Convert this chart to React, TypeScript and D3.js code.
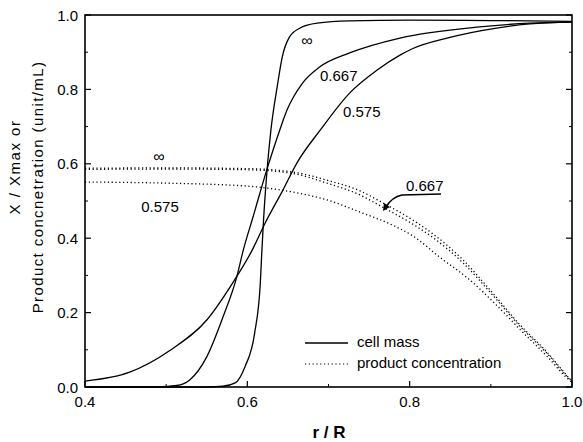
import React from "react";
import * as d3 from "d3";

// ---- data ----
const xTicksMajor = [0.4, 0.6, 0.8, 1.0];
const xTicksMinor = [0.5, 0.7, 0.9];
const yTicksMajor = [0.0, 0.2, 0.4, 0.6, 0.8, 1.0];
const yTicksMinor = [0.1, 0.3, 0.5, 0.7, 0.9];

// cell mass, X/Xmax
const rCellInf = [0.40, 0.55, 0.570, 0.585, 0.597, 0.609, 0.616, 0.618, 0.620, 0.624, 0.629, 0.637, 0.643, 0.652, 0.665, 0.686, 0.726, 0.80, 0.90, 1.0];
const vCellInf = [0.0, 0.0, 0.002, 0.011, 0.054, 0.145, 0.28, 0.37, 0.45, 0.575, 0.69, 0.81, 0.887, 0.941, 0.965, 0.978, 0.984, 0.986, 0.985, 0.983];

const rCell667 = [0.40, 0.49, 0.513, 0.529, 0.550, 0.570, 0.587, 0.595, 0.607, 0.625, 0.640, 0.649, 0.668, 0.689, 0.726, 0.788, 0.886, 0.948, 1.0];
const vCell667 = [0.0, 0.0, 0.004, 0.019, 0.081, 0.188, 0.296, 0.368, 0.457, 0.591, 0.691, 0.745, 0.817, 0.860, 0.898, 0.938, 0.968, 0.978, 0.981];

const rCell575 = [0.40, 0.455, 0.505, 0.550, 0.582, 0.606, 0.622, 0.644, 0.661, 0.690, 0.726, 0.760, 0.788, 0.804, 0.846, 0.907, 0.948, 1.0];
const vCell575 = [0.016, 0.040, 0.099, 0.180, 0.280, 0.368, 0.441, 0.530, 0.602, 0.691, 0.790, 0.852, 0.892, 0.910, 0.938, 0.965, 0.976, 0.981];

// product concentration
const rProd = [0.40, 0.50, 0.60, 0.656, 0.698, 0.739, 0.767, 0.800, 0.829, 0.866, 0.899, 0.936, 0.969, 0.994, 1.0];
const vProdInf = [0.588, 0.589, 0.587, 0.578, 0.556, 0.527, 0.495, 0.454, 0.411, 0.341, 0.261, 0.167, 0.094, 0.030, 0.015];
const vProd667 = [0.585, 0.586, 0.584, 0.574, 0.548, 0.516, 0.483, 0.443, 0.401, 0.333, 0.255, 0.163, 0.091, 0.028, 0.014];
const rProd575 = [0.40, 0.50, 0.60, 0.656, 0.698, 0.739, 0.779, 0.804, 0.837, 0.874, 0.907, 0.939, 0.969, 0.994, 1.0];
const vProd575 = [0.551, 0.548, 0.540, 0.524, 0.503, 0.470, 0.435, 0.406, 0.349, 0.288, 0.220, 0.148, 0.083, 0.024, 0.013];

const legendLabels = ["cell mass", "product concentration"];

const W = 583;
const H = 442;
const FONT = "'Liberation Sans', Arial, sans-serif";

export default function App() {
  const x = d3.scaleLinear().domain([0.4, 1.0]).range([85, 572]);
  const y = d3.scaleLinear().domain([0, 1.0]).range([387, 15]);

  const zip = (rs: number[], vs: number[]) => rs.map((r, i) => [r, vs[i]] as [number, number]);
  const line = d3
    .line<[number, number]>()
    .x((d) => x(d[0]))
    .y((d) => y(d[1]))
    .curve(d3.curveMonotoneX);

  const cellSeries = [zip(rCellInf, vCellInf), zip(rCell667, vCell667), zip(rCell575, vCell575)];
  const prodSeries = [zip(rProd, vProdInf), zip(rProd, vProd667), zip(rProd575, vProd575)];

  return (
    <svg
      width={W}
      height={H}
      style={{ position: "absolute", left: 0, top: 0, background: "#fff" }}
      fontFamily={FONT}
    >
      <rect x={0} y={0} width={W} height={H} fill="#fff" />
      {/* curves */}
      {cellSeries.map((s, i) => (
        <path key={"c" + i} d={line(s) || ""} fill="none" stroke="#000" strokeWidth={1.3} />
      ))}
      {prodSeries.map((s, i) => (
        <path
          key={"p" + i}
          d={line(s) || ""}
          fill="none"
          stroke="#000"
          strokeWidth={1.3}
          strokeDasharray="1.2 2.6"
        />
      ))}

      {/* frame */}
      <rect x={x(0.4)} y={y(1)} width={x(1) - x(0.4)} height={y(0) - y(1)} fill="none" stroke="#000" strokeWidth={1.6} />

      {/* ticks */}
      {xTicksMajor.map((t) => (
        <g key={"xt" + t}>
          <line x1={x(t)} x2={x(t)} y1={y(0)} y2={y(0) - 6} stroke="#000" strokeWidth={1.2} />
          <text x={x(t)} y={407} textAnchor="middle" fontSize={15}>
            {t.toFixed(1)}
          </text>
        </g>
      ))}
      {xTicksMinor.map((t) => (
        <line key={"xm" + t} x1={x(t)} x2={x(t)} y1={y(0)} y2={y(0) - 3} stroke="#000" strokeWidth={1} />
      ))}
      {yTicksMajor.map((t) => (
        <g key={"yt" + t}>
          <line x1={x(0.4)} x2={x(0.4) + 6} y1={y(t)} y2={y(t)} stroke="#000" strokeWidth={1.2} />
          <line x1={x(1)} x2={x(1) - 6} y1={y(t)} y2={y(t)} stroke="#000" strokeWidth={1.2} />
          <text x={78} y={y(t) + 5.5} textAnchor="end" fontSize={15}>
            {t.toFixed(1)}
          </text>
        </g>
      ))}
      {yTicksMinor.map((t) => (
        <g key={"ym" + t}>
          <line x1={x(0.4)} x2={x(0.4) + 3} y1={y(t)} y2={y(t)} stroke="#000" strokeWidth={1} />
          <line x1={x(1)} x2={x(1) - 3} y1={y(t)} y2={y(t)} stroke="#000" strokeWidth={1} />
        </g>
      ))}

      {/* curve labels */}
      <text x={307} y={46} textAnchor="middle" fontSize={16}>∞</text>
      <text x={320} y={81} fontSize={15}>0.667</text>
      <text x={343} y={117} fontSize={15}>0.575</text>
      <text x={159} y={162} textAnchor="middle" fontSize={16}>∞</text>
      <text x={160} y={212} textAnchor="middle" fontSize={15}>0.575</text>
      <text x={406} y={191} fontSize={15}>0.667</text>
      <path d="M441,194 L402,195 Q392,197 386,207" fill="none" stroke="#000" strokeWidth={1.6} />
      <path d="M383,211 L384,203 L390,207 Z" fill="#000" />

      {/* legend */}
      <line x1={305} x2={348} y1={343} y2={343} stroke="#000" strokeWidth={1.6} />
      <text x={357} y={347} fontSize={15}>{legendLabels[0]}</text>
      <line x1={305} x2={348} y1={364} y2={364} stroke="#000" strokeWidth={1.2} strokeDasharray="1.2 2.6" />
      <text x={357} y={368} fontSize={15}>{legendLabels[1]}</text>

      {/* axis titles */}
      <text x={329} y={438} textAnchor="middle" fontSize={17} fontWeight="bold">r / R</text>
      <text transform="translate(20,167) rotate(-90)" textAnchor="middle" fontSize={15} letterSpacing={1.5}>
        X / Xmax  or
      </text>
      <text transform="translate(43,187) rotate(-90)" textAnchor="middle" fontSize={15} letterSpacing={1.4}>
        Product concnetration  (unit/mL)
      </text>
    </svg>
  );
}
